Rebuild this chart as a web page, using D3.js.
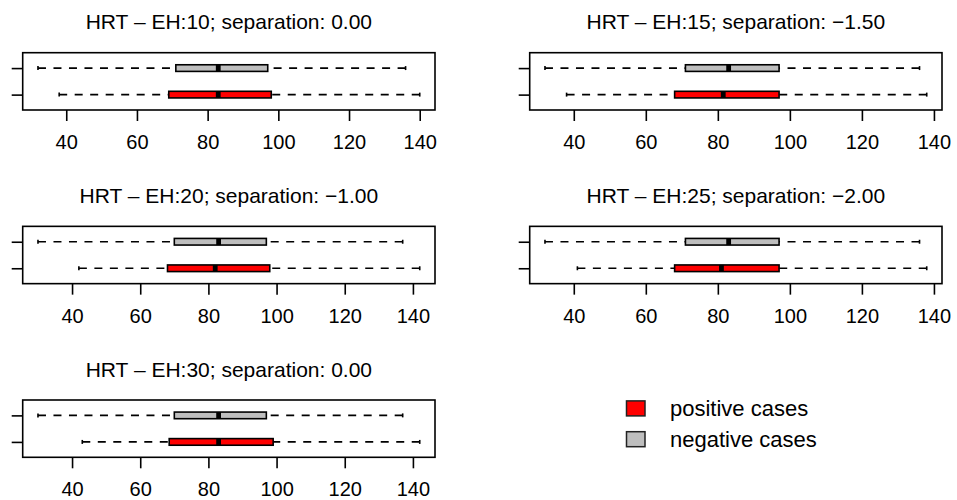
<!DOCTYPE html>
<html><head><meta charset="utf-8">
<script src="https://cdn.jsdelivr.net/npm/d3@7"></script>
<style>
body{margin:0;background:#fff}
svg{display:block}
text{font-family:"Liberation Sans",Arial,Helvetica,sans-serif;fill:#000}
</style>
</head><body><svg id="chart" width="957" height="500"></svg>
<script>
// ---- data ----
const ehValues = [10, 15, 20, 25, 30];
const separations = ["0.00", "\u22121.50", "\u22121.00", "\u22122.00", "0.00"];
// five-number summaries: [whisker min, Q1, median, Q3, whisker max]
const positiveStats = [
  [38, 69, 83, 98, 140],
  [38, 68, 81.5, 97, 138],
  [42, 68, 82, 98, 142],
  [41, 68, 81, 97, 138],
  [43, 68.5, 83, 99, 142]
];
const negativeStats = [
  [32, 71, 83, 97, 136],
  [32, 71, 83, 97, 136],
  [30, 70, 83, 97, 137],
  [32, 71, 83, 97, 136],
  [30, 70, 83, 97, 137]
];
const xTicks = [40, 60, 80, 100, 120, 140];
const groupNames = ["positive cases", "negative cases"];
const groupColors = ["#FF0000", "#BEBEBE"];

// ---- layout ----
const svg = d3.select("#chart");
const colLeft = [22.7, 529.7], frameW = 412.3;
const rowTop = [52.7, 226.35, 400], frameH = 57.3;
const lw = 1.6;

ehValues.forEach((eh, i) => {
  const col = i % 2, row = Math.floor(i / 2);
  const left = colLeft[col], top = rowTop[row];
  const g = svg.append("g");
  const groups = [positiveStats[i], negativeStats[i]];
  const lo = d3.min(groups, s => s[0]), hi = d3.max(groups, s => s[4]);
  const pad = (hi - lo) * 0.04;
  const x = d3.scaleLinear().domain([lo - pad, hi + pad]).range([left, left + frameW]);
  const y = d3.scaleLinear().domain([0.42, 2.58]).range([top + frameH, top]);
  const boxHalf = 0.125, stapleHalf = 0.075;

  groups.forEach((s, gi) => {
    const pos = gi + 1;
    const bg = g.append("g");
    // whiskers (drawn from whisker end toward the box)
    [[s[0], s[1]], [s[4], s[3]]].forEach(([a, b]) => {
      bg.append("line").attr("x1", x(a)).attr("x2", x(b))
        .attr("y1", y(pos)).attr("y2", y(pos))
        .attr("stroke", "#000").attr("stroke-width", lw)
        .attr("stroke-dasharray", "8,7.5");
      bg.append("line").attr("x1", x(a)).attr("x2", x(a))
        .attr("y1", y(pos - stapleHalf)).attr("y2", y(pos + stapleHalf))
        .attr("stroke", "#000").attr("stroke-width", lw);
    });
    bg.append("rect").attr("x", x(s[1])).attr("width", x(s[3]) - x(s[1]))
      .attr("y", y(pos + boxHalf)).attr("height", y(pos - boxHalf) - y(pos + boxHalf))
      .attr("fill", groupColors[gi]).attr("stroke", "#000").attr("stroke-width", lw);
    bg.append("line").attr("x1", x(s[2])).attr("x2", x(s[2]))
      .attr("y1", y(pos + boxHalf)).attr("y2", y(pos - boxHalf))
      .attr("stroke", "#000").attr("stroke-width", 4.8);
  });

  // frame
  g.append("rect").attr("x", left).attr("y", top).attr("width", frameW).attr("height", frameH)
    .attr("fill", "none").attr("stroke", "#000").attr("stroke-width", lw);

  // x axis
  const xa = g.append("g").attr("transform", `translate(0,${top + frameH})`)
    .call(d3.axisBottom(x).tickValues(xTicks).tickSize(11).tickPadding(13.8).tickFormat(d3.format("d")));
  xa.select(".domain").remove();
  xa.selectAll(".tick line").attr("stroke", "#000").attr("stroke-width", lw);
  xa.selectAll(".tick text").attr("font-size", 20).attr("font-family", null);

  // y axis (ticks only)
  const ya = g.append("g").attr("transform", `translate(${left},0)`)
    .call(d3.axisLeft(y).tickValues([1, 2]).tickSize(11).tickFormat(""));
  ya.select(".domain").remove();
  ya.selectAll(".tick line").attr("stroke", "#000").attr("stroke-width", lw);

  // title
  g.append("text").attr("x", left + frameW / 2).attr("y", top - 23.5)
    .attr("text-anchor", "middle").attr("font-size", 21)
    .text(`HRT \u2013 EH:${eh}; separation: ${separations[i]}`);
});

// legend
const legend = svg.append("g");
const legendY = [408.4, 439.2];
groupNames.forEach((name, gi) => {
  legend.append("rect").attr("x", 626.5).attr("y", legendY[gi] - 7.5)
    .attr("width", 18.5).attr("height", 15)
    .attr("fill", groupColors[gi]).attr("stroke", "#222").attr("stroke-width", 1.5);
  legend.append("text").attr("x", 670).attr("y", legendY[gi] + 7.5)
    .attr("font-size", 22).text(name);
});
</script>
</body></html>
